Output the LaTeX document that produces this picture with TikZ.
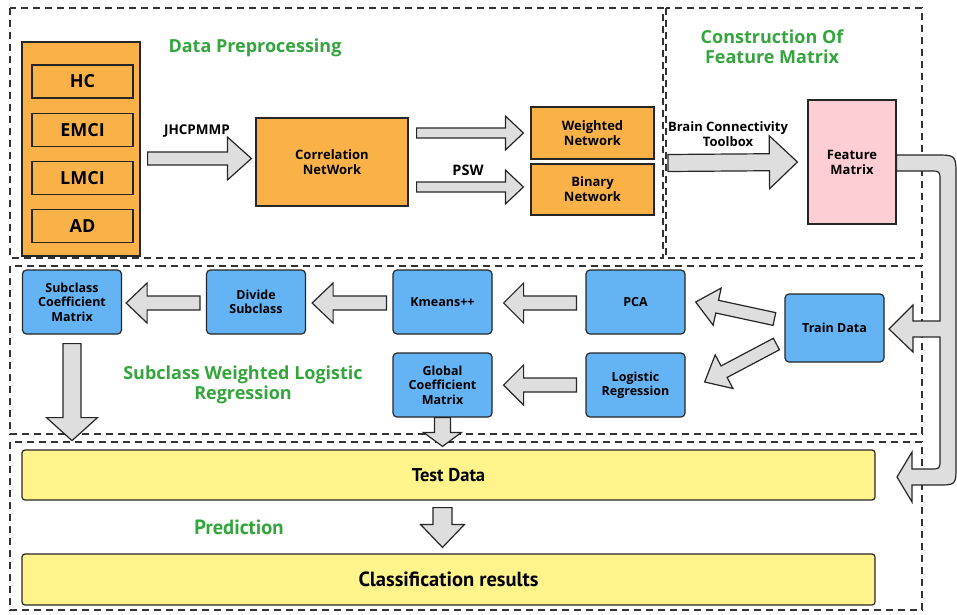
\documentclass[tikz,border=0pt]{standalone}
\usepackage{fontspec}
\setmainfont{Open Sans}
\newfontfamily\narrowfont{PT Sans}
\usetikzlibrary{positioning,calc}

\definecolor{boxorange}{RGB}{250,178,72}
\definecolor{boxblue}{RGB}{99,179,245}
\definecolor{boxpink}{RGB}{255,205,212}
\definecolor{boxyellow}{RGB}{255,243,140}
\definecolor{titlegreen}{RGB}{52,165,60}
\definecolor{arrowgrey}{RGB}{222,222,222}

% fat grey arrow: from, to, shaft half width, head half width, head length
\newcommand{\fatarrow}[5]{%
  \filldraw[fatarr] let \p1=(#1), \p2=(#2), \n1={atan2(\y2-\y1,\x2-\x1)}, \n2={veclen(\x2-\x1,\y2-\y1)} in
    [shift={(\p1)}, rotate=\n1] (0pt,-#3pt) -- ({\n2-#5pt},-#3pt) -- ({\n2-#5pt},-#4pt) -- (\n2,0pt)
    -- ({\n2-#5pt},#4pt) -- ({\n2-#5pt},#3pt) -- (0pt,#3pt) -- cycle;
}

\tikzset{
  frame/.style={draw=black!80, line width=1.3pt, dash pattern=on 7pt off 5pt},
  fatarr/.style={draw=black!85, line width=1.2pt, fill=arrowgrey, line join=miter},
  orangebox/.style={draw=black!85, line width=1.2pt, fill=boxorange, align=center, inner sep=0pt,
    font=\bfseries\fontsize{13}{15}\selectfont},
  classbox/.style={orangebox, minimum width=101, minimum height=33, font=\bfseries\fontsize{18}{20}\selectfont},
  bluebox/.style={draw=black!85, line width=1.2pt, fill=boxblue, rounded corners=4pt, align=center,
    inner sep=0pt, minimum width=99, minimum height=64, font=\bfseries\fontsize{12.5}{14.5}\selectfont},
  yellowbox/.style={draw=black!85, line width=1.2pt, fill=boxyellow, rounded corners=3pt, inner sep=0pt,
    minimum width=853, minimum height=50, font=\narrowfont\bfseries\fontsize{18.5}{20}\selectfont},
  title/.style={text=titlegreen, align=center, font=\bfseries\fontsize{18}{20}\selectfont},
  lbl/.style={align=center, font=\bfseries\fontsize{13.5}{15}\selectfont}
}

\begin{document}
\begin{tikzpicture}[x=1pt, y=-1pt]
  \useasboundingbox (0,0) rectangle (957,614);

  % Frames
  \draw[frame] (10,8) rectangle (663,258);
  \draw[frame] (666,8) rectangle (922,258);
  \draw[frame] (10,266) rectangle (922,434);
  \draw[frame] (10,442) rectangle (922,610);

  % Data preprocessing
  \node[title] (tpre) at (255,48) {Data Preprocessing};
  \node[orangebox, minimum width=118, minimum height=214] (grp) at (81,149) {};
  \node[classbox] (hc) at (82.5,81.5) {HC};
  \node[classbox, below=14pt of hc] (emci) {EMCI};
  \node[classbox, below=14pt of emci] (lmci) {LMCI};
  \node[classbox, below=14pt of lmci] (ad) {AD};
  \node[orangebox, minimum width=152, minimum height=88] (corr) at (332,162) {Correlation\\NetWork};
  \node[orangebox, minimum width=123, minimum height=52] (wnet) at (592.5,133) {Weighted\\Network};
  \node[orangebox, minimum width=123, minimum height=51] (bnet) at (592.5,189.5) {Binary\\Network};

  \fatarrow{$(grp.east |- 0,158.5)+(7,0)$}{$(corr.west |- 0,158.5)+(-4,0)$}{6.5}{21.5}{24}
  \node[lbl] (jhc) at (197,131) {JHCPMMP};
  \fatarrow{$(corr.east |- wnet)+(8,0)$}{$(wnet.west)+(-7,0)$}{5}{17}{18}
  \fatarrow{$(corr.east |- 0,187)+(8,0)$}{$(bnet.west |- 0,187)+(-7,0)$}{5}{17}{18}
  \node[lbl, font=\bfseries\fontsize{14.5}{16}\selectfont] (psw) at (468,170) {PSW};

  % Construction of feature matrix
  \node[title] (tcon) at (772,47) {Construction Of\\Feature Matrix};
  \node[draw=black!85, line width=1.2pt, fill=boxpink, minimum width=88, minimum height=124, align=center,
    font=\bfseries\fontsize{13}{15}\selectfont] (feat) at (852,162) {Feature\\Matrix};
  \fatarrow{$(666,163)+(2,0)$}{$(feat.west)+(-10,0)$}{8.5}{26.5}{28}
  \node[lbl, font=\bfseries\fontsize{13}{15}\selectfont] (bct) at (728,134) {Brain Connectivity\\Toolbox};

  % Subclass weighted logistic regression
  \node[bluebox] (scm) at (72,302) {Subclass\\Coefficient\\Matrix};
  \node[bluebox] (divide) at (256,302) {Divide\\Subclass};
  \node[bluebox] (kmeans) at (442.5,302) {Kmeans++};
  \node[bluebox] (pca) at (635.5,302) {PCA};
  \node[bluebox, minimum height=68] (train) at (834.5,328) {Train Data};
  \node[bluebox] (gcm) at (442.5,385) {Global\\Coefficient\\Matrix};
  \node[bluebox] (logreg) at (635.5,385) {Logistic\\Regression};
  \node[title] (tswl) at (243,385) {Subclass Weighted Logistic\\Regression};

  \fatarrow{$(pca.west |- 0,303)+(-9,0)$}{$(kmeans.east |- 0,303)+(11,0)$}{7}{20}{20}
  \fatarrow{$(kmeans.west |- 0,303)+(-6,0)$}{$(divide.east |- 0,303)+(6,0)$}{7}{20}{21}
  \fatarrow{$(divide.west |- 0,303)+(-6,0)$}{$(scm.east |- 0,303)+(4,0)$}{7}{20}{21}
  \fatarrow{$(logreg.west)+(-9,0)$}{$(gcm.east)+(11,0)$}{7}{20}{20}
  \fatarrow{$(train.west)+(-10,-9)$}{$(pca.east)+(10,0)$}{6.5}{19}{22}
  \fatarrow{$(train.west)+(-8,16)$}{$(logreg.east)+(19,-3)$}{6.5}{19}{22}
  \fatarrow{$(scm.south)+(0,9)$}{$(scm.south)+(0,106)$}{9}{25.5}{23}

  % Prediction
  \node[yellowbox] (test) at (448.5,475) {Test Data};
  \node[yellowbox, minimum height=51, font=\narrowfont\bfseries\fontsize{20.5}{22}\selectfont] (result) at (448.5,579.5) {Classification results};
  \node[title, font=\narrowfont\bfseries\fontsize{20.5}{22}\selectfont] (tpred) at (239,527) {Prediction};
  \fatarrow{$(gcm.south)+(0,0)$}{$(gcm.south |- test.north)+(0,-3)$}{8}{19}{14}
  \fatarrow{$(test.south -| gcm)+(0,7)$}{$(result.north -| gcm)+(0,-6)$}{9.5}{22}{23}

  % Feature matrix to train and test data
  \filldraw[fatarr] (feat.east |- 0,155) -- (935,155) .. controls (956,155) .. (956,176) -- (956,466)
    .. controls (956,485) .. (937,485) -- (912,485) -- (912,502) -- (897,477) -- (912,452) -- (912,469)
    -- (930,469) .. controls (940,469) .. (940,459) -- (940,337) -- (913,337) -- (913,352) -- (889,329)
    -- (913,305) -- (913,321) -- (940,321) -- (940,181) .. controls (940,171) .. (930,171)
    -- (feat.east |- 0,171) -- cycle;
\end{tikzpicture}
\end{document}
